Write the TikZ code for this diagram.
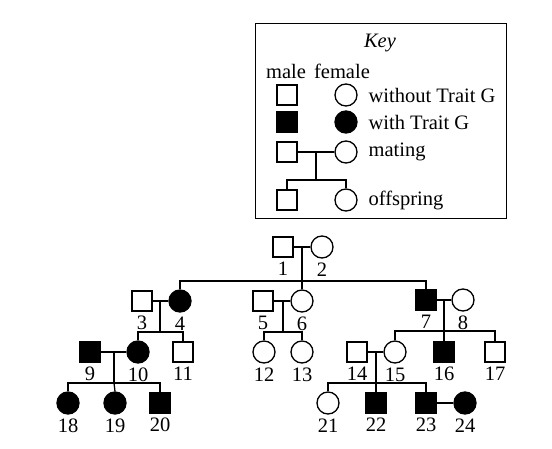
\documentclass[tikz,border=0pt]{standalone}
\usepackage{fontspec}
\setmainfont{Liberation Serif}
\begin{document}
\begin{tikzpicture}[x=1pt,y=-1pt,
  font=\fontsize{20.5}{24}\selectfont,
  line width=1.3pt,
  msq/.style={draw,rectangle,minimum size=20pt,inner sep=0pt,fill=white},
  fsq/.style={msq,fill=black},
  fcir/.style={draw,circle,minimum size=22pt,inner sep=0pt,fill=white},
  ffcir/.style={fcir,fill=black},
  every label/.style={inner sep=2pt,font=\fontsize{20.5}{24}\selectfont},
  label distance=2pt,
  txt/.style={anchor=west,inner sep=0pt}]
\useasboundingbox (0,0) rectangle (552,449);
% ---------- Key ----------
\node[draw,line width=0.9pt,minimum width=251pt,minimum height=195pt,anchor=north west,inner sep=0pt] (keybox) at (255,23) {};
\node (keyt) at (380,43) {\itshape Key};
\node (kmale) at (286,71) {male};
\node (kfemale) at (342,71) {female};
\node[msq] (k1a) at (287,95) {};
\node[fcir] (k1b) at (346,95) {};
\node[txt] (k1t) at (368,95) {without Trait G};
\node[fsq] (k2a) at (287,122) {};
\node[ffcir] (k2b) at (346,122) {};
\node[txt] (k2t) at (368,122) {with Trait G};
\node[msq] (k3a) at (287,152) {};
\node[fcir] (k3b) at (346,152) {};
\node[txt] (k3t) at (368,152) {mating};
\node[msq] (k4a) at (287,200) {};
\node[fcir] (k4b) at (346,200) {};
\node[txt] (k4t) at (368,200) {offspring};
\coordinate (km) at (316,152);
\coordinate (ks) at (316,180);
\draw (k3a.east) -- (k3b.west);
\draw (km) -- (ks);
\draw (k4a.north) |- (ks) -| (k4b.north);
% ---------- Pedigree ----------
\node[msq,label=below:1] (p1) at (283,247) {};
\node[fcir,label=below:2] (p2) at (322,247) {};
\node[msq,label=below:3] (p3) at (142,301) {};
\node[ffcir,label=below:4] (p4) at (180,301) {};
\node[msq,label=below:5] (p5) at (263,301) {};
\node[fcir,label=below:6] (p6) at (302,301) {};
\node[fsq,label=below:7] (p7) at (426,300) {};
\node[fcir,label=below:8] (p8) at (463,300) {};
\node[fsq,label=below:9] (p9) at (90,352) {};
\node[ffcir,label=below:10] (p10) at (138,352) {};
\node[msq,label=below:11] (p11) at (183,352) {};
\node[fcir,label=below:12] (p12) at (264,352) {};
\node[fcir,label=below:13] (p13) at (302,352) {};
\node[msq,label=below:14] (p14) at (357,352) {};
\node[fcir,label=below:15] (p15) at (395,352) {};
\node[fsq,label=below:16] (p16) at (444,352) {};
\node[msq,label=below:17] (p17) at (495,352) {};
\node[ffcir,label=below:18] (p18) at (68,403) {};
\node[ffcir,label=below:19] (p19) at (115,403) {};
\node[fsq,label=below:20] (p20) at (160,403) {};
\node[fcir,label=below:21] (p21) at (328,403) {};
\node[fsq,label=below:22] (p22) at (376,403) {};
\node[fsq,label=below:23] (p23) at (426,403) {};
\node[ffcir,label=below:24] (p24) at (465,403) {};
% matings
\coordinate (m12) at (302,247);  \coordinate (s12) at (302,281);
\coordinate (m34) at (160,301);  \coordinate (s34) at (160,332);
\coordinate (m56) at (283,301);  \coordinate (s56) at (283,332);
\coordinate (m78) at (444,300);  \coordinate (s78) at (444,331);
\coordinate (m910) at (114,352); \coordinate (s910) at (114,383);
\coordinate (m1415) at (376,352); \coordinate (s1415) at (376,383);
\draw (p1.east) -- (p2.west);
\draw (p3.east) -- (p4.west);
\draw (p5.east) -- (p6.west);
\draw (p7.east) -- (p8.west);
\draw (p9.east) -- (p10.west);
\draw (p14.east) -- (p15.west);
\draw (p23.east) -- (p24.west);
% descent
\draw (m12) -- (s12);
\draw (p4.north) |- (s12) -| (p7.north);
\draw (s12) -- (p6.north);
\draw (m34) -- (s34);
\draw (p10.north) |- (s34) -| (p11.north);
\draw (m56) -- (s56);
\draw (p12.north) |- (s56) -| (p13.north);
\draw (m78) -- (s78);
\draw (p15.north) |- (s78) -| (p17.north);
\draw (s78) -- (p16.north);
\draw (m910) -- (s910);
\draw (p18.north) |- (s910) -| (p20.north);
\draw (s910) -- (p19.north);
\draw (m1415) -- (s1415);
\draw (p21.north) |- (s1415) -| (p23.north);
\draw (s1415) -- (p22.north);
\end{tikzpicture}
\end{document}
